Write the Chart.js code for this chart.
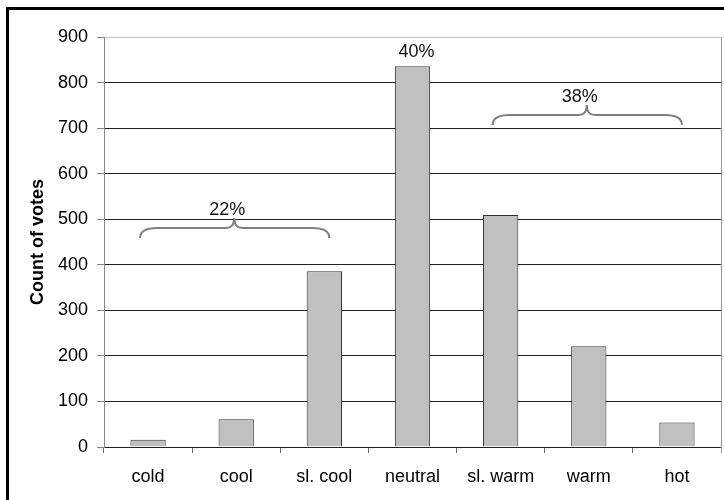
<!DOCTYPE html>
<html>
<head>
<meta charset="utf-8">
<script src="https://cdn.jsdelivr.net/npm/chart.js@4/dist/chart.umd.min.js"></script>
<style>
  body { margin: 0; background: #fff; }
  canvas { display: block; }
</style>
</head>
<body>
<canvas id="votes" width="724" height="500"></canvas>
<script>

var categories = ['cold', 'cool', 'sl. cool', 'neutral', 'sl. warm', 'warm', 'hot'];
var votes = [16, 61, 386, 836, 509, 221, 54];
var yTicks = [0, 100, 200, 300, 400, 500, 600, 700, 800, 900];

// share of votes, and which categories each share covers
var groupLabels = ['22%', '40%', '38%'];
var groupFrom = [0, 3, 4];
var groupTo = [2, 3, 6];

var FONT = 'Liberation Sans, Arial, sans-serif';

// white page, black frame (cut at right/bottom) and the right edge of the plot
var framePlugin = {
  id: 'frame',
  beforeDraw: function(chart) {
    var ctx = chart.ctx;
    ctx.save();
    ctx.fillStyle = '#fff';
    ctx.fillRect(0, 0, chart.width, chart.height);
    ctx.restore();
  },
  afterDraw: function(chart) {
    var ctx = chart.ctx, a = chart.chartArea;
    ctx.save();
    ctx.strokeStyle = '#999';
    ctx.lineWidth = 1;
    ctx.beginPath();
    ctx.moveTo(a.right + 0.5, a.top);
    ctx.lineTo(a.right + 0.5, a.bottom + 6);
    ctx.stroke();
    ctx.strokeStyle = '#000';
    ctx.lineWidth = 3;
    ctx.beginPath();
    ctx.moveTo(7.5, chart.height + 2);
    ctx.lineTo(7.5, 8.5);
    ctx.lineTo(chart.width + 2, 8.5);
    ctx.stroke();
    ctx.restore();
  }
};

function drawBrace(ctx, x0, x1, xt, y, h) {
  var r = 17, r2 = 8;
  ctx.beginPath();
  ctx.moveTo(x0, y + h);
  ctx.quadraticCurveTo(x0, y, x0 + r, y);
  ctx.lineTo(xt - r2, y);
  ctx.quadraticCurveTo(xt, y, xt, y - h);
  ctx.quadraticCurveTo(xt, y, xt + r2, y);
  ctx.lineTo(x1 - r, y);
  ctx.quadraticCurveTo(x1, y, x1, y + h);
  ctx.stroke();
}

var bracePlugin = {
  id: 'braces',
  afterDatasetsDraw: function(chart, args, opts) {
    var ctx = chart.ctx;
    var xs = chart.scales.x, ys = chart.scales.y;
    ctx.save();
    ctx.font = '18px ' + FONT;
    ctx.textAlign = 'center';
    ctx.textBaseline = 'alphabetic';
    for (var i = 0; i < groupLabels.length; i++) {
      var from = groupFrom[i], to = groupTo[i];
      if (from === to) {
        var bx = xs.getPixelForValue(from);
        var by = ys.getPixelForValue(votes[from]);
        ctx.fillStyle = '#111';
        ctx.fillText(groupLabels[i], bx + 4, by - 9);
        continue;
      }
      var x0 = xs.getPixelForValue(from) - 8;
      var x1 = xs.getPixelForValue(to) + 5;
      var xt = (xs.getPixelForValue(from) + xs.getPixelForValue(to)) / 2 - 2;
      var y = ys.getPixelForValue(opts.levels[i]);
      ctx.strokeStyle = '#808080';
      ctx.lineWidth = 2;
      drawBrace(ctx, x0, x1, xt, y, 10);
      ctx.fillStyle = '#111';
      ctx.fillText(groupLabels[i], xt - 7, y - 13);
    }
    ctx.restore();
  }
};

new Chart(document.getElementById('votes'), {
  type: 'bar',
  data: {
    labels: categories,
    datasets: [{
      data: votes,
      backgroundColor: '#c0c0c0',
      borderColor: '#333',
      borderWidth: 1,
      barPercentage: 0.4,
      categoryPercentage: 1.0
    }]
  },
  options: {
    responsive: false,
    animation: false,
    devicePixelRatio: 1,
    layout: { padding: { top: 37, right: 3, left: 0, bottom: 0 } },
    plugins: {
      legend: { display: false },
      tooltip: { enabled: false },
      braces: { levels: [481, null, 729] }
    },
    scales: {
      x: {
        grid: {
          offset: true,
          drawOnChartArea: false,
          drawTicks: true,
          tickLength: 6,
          tickColor: '#666'
        },
        border: { color: '#222' },
        ticks: {
          color: '#000',
          font: { family: FONT, size: 18 },
          padding: 13,
          maxRotation: 0
        },
        afterFit: function(s) { s.height = 53; }
      },
      y: {
        min: 0,
        max: 900,
        afterBuildTicks: function(s) {
          s.ticks = yTicks.map(function(v) { return { value: v }; });
        },
        grid: {
          color: function(c) { return c.tick && c.tick.value === 900 ? '#c0c0c0' : '#222'; },
          tickLength: 7,
          tickColor: '#888'
        },
        border: { color: '#888' },
        ticks: {
          color: '#000',
          font: { family: FONT, size: 18 },
          padding: 9
        },
        title: {
          display: true,
          text: 'Count of votes',
          color: '#000',
          font: { family: FONT, size: 18, weight: 'bold' },
          padding: { top: 27, bottom: 0 }
        },
        afterFit: function(s) { s.width = 104; }
      }
    }
  },
  plugins: [framePlugin, bracePlugin]
});
</script>
</body>
</html>
